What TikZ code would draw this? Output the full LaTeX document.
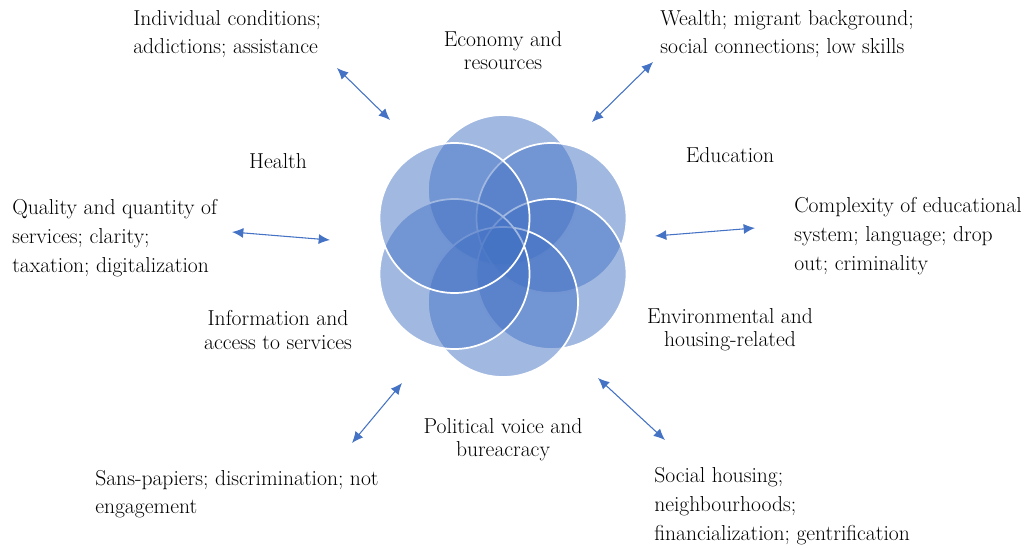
\documentclass[tikz,border=0pt]{standalone}
\usepackage{tikz}
\usetikzlibrary{arrows.meta,calc}
\definecolor{venn}{RGB}{68,114,196}
\definecolor{arrowblue}{RGB}{68,114,196}

\begin{document}
\begin{tikzpicture}[x=0.75pt,y=-0.75pt,>={Latex[length=8.5pt,width=7.5pt]},
  every node/.style={font=\fontsize{16.2}{21.5}\selectfont,inner sep=0pt},
  petal/.style={circle,draw=white,line width=1.3pt,fill=venn,fill opacity=0.5,minimum size=112.5pt},
  factor/.style={align=left,anchor=west},
  theme/.style={align=center,font=\fontsize{16.2}{17.3}\selectfont},
  link/.style={<->,draw=arrowblue,line width=0.8pt}]
  \useasboundingbox (0,0) rectangle (1025,547);
  \coordinate (hub) at (503,246);
  \foreach \a [count=\i] in {-90,-30,30,90,150,210}
    \node[petal] (c\i) at ($(hub)+(\a:56)$) {};

  \node[theme] (economy) at (503,51) {Economy and\\resources};
  \node[theme] (education) at (730,155) {Education};
  \node[theme] (environment) at (730,330) {Environmental and\\housing-related};
  \node[theme] (political) at (503,440) {Political voice and\\bureacracy};
  \node[theme] (information) at (278,330) {Information and\\access to services};
  \node[theme] (health) at (278,161) {Health};

  \node[factor] (individual) at (133,34) {Individual conditions;\\addictions; assistance};
  \node[factor] (wealth) at (660,34) {Wealth; migrant background;\\social connections; low skills};
  \node[factor] (complexity) at (794,236) {Complexity of educational\\system; language; drop\\out; criminality};
  \node[factor] (housing) at (654,506) {Social housing;\\neighbourhoods;\\financialization; gentrification};
  \node[factor] (papiers) at (95,494) {Sans-papiers; discrimination; not\\engagement};
  \node[factor] (quality) at (12,238) {Quality and quantity of\\services; clarity;\\taxation; digitalization};

  \coordinate (a1) at (337,68);  \coordinate (b1) at (390,120);
  \coordinate (a2) at (653,62);  \coordinate (b2) at (592,122);
  \coordinate (a3) at (755,228); \coordinate (b3) at (655,236);
  \coordinate (a4) at (665,440); \coordinate (b4) at (598,378);
  \coordinate (a5) at (352,443); \coordinate (b5) at (402,383);
  \coordinate (a6) at (232,232); \coordinate (b6) at (330,240);
  \foreach \i in {1,...,6}
    \draw[link] (a\i) -- (b\i);
\end{tikzpicture}
\end{document}
